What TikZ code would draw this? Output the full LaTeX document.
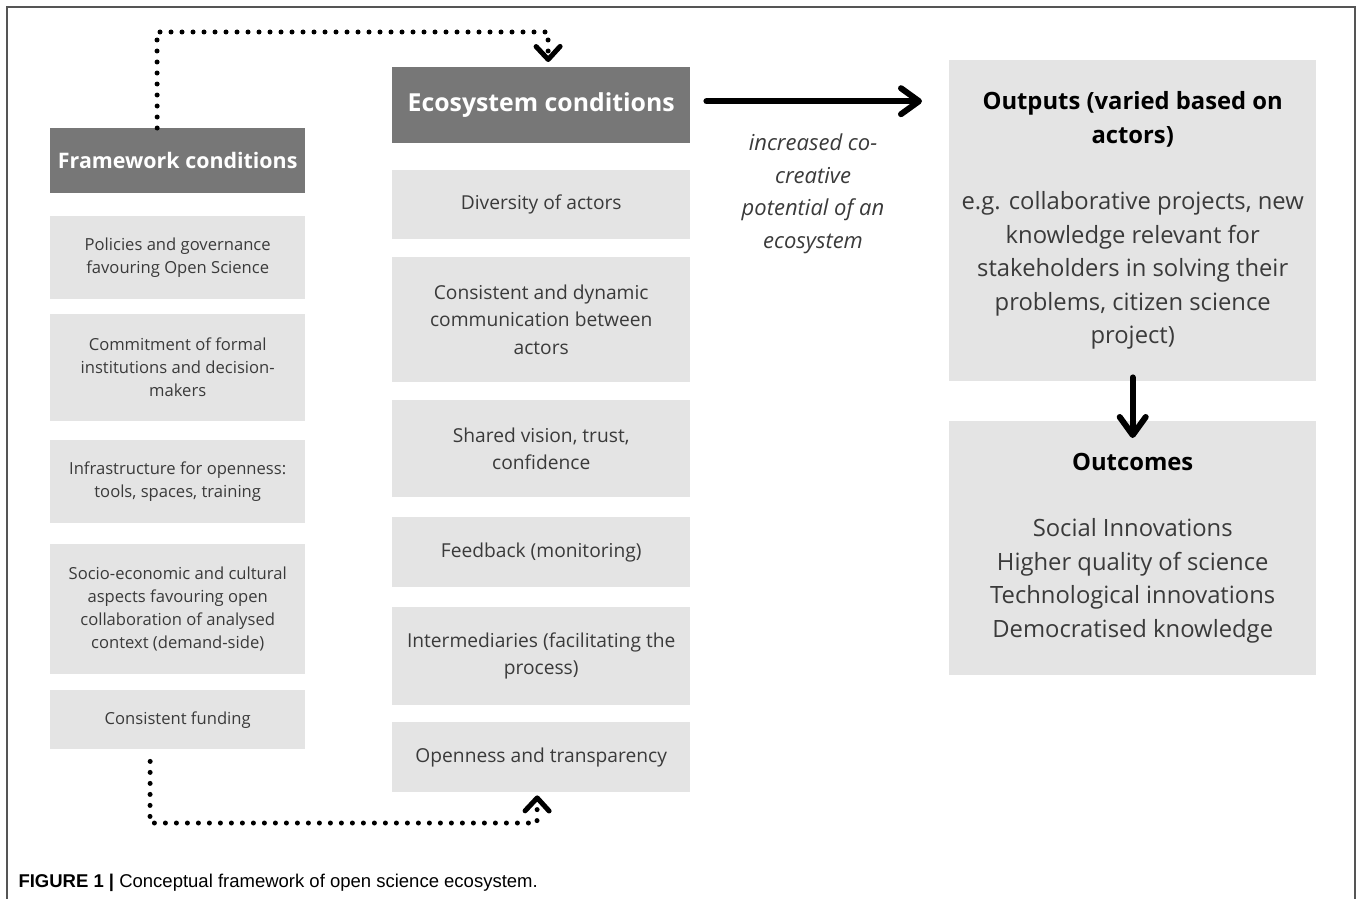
\documentclass[tikz,border=0pt]{standalone}
\usepackage{fontspec}
\setmainfont{Open Sans}
\newfontfamily\capfont{Liberation Sans}
\usetikzlibrary{arrows.meta,calc}
\definecolor{headgray}{HTML}{777777}
\definecolor{boxgray}{HTML}{E4E4E4}
\definecolor{txtgray}{HTML}{3A3A3A}
\definecolor{framegray}{HTML}{555555}
\tikzset{hdr/.style={anchor=north west, fill=headgray, text=white, inner sep=0pt},
         cbox/.style={anchor=north west, fill=boxgray, text=txtgray, align=center, inner sep=0pt},
         fwbox/.style={cbox, minimum width=255pt, font=\fontsize{16.6}{23}\selectfont},
         ecbox/.style={cbox, minimum width=298pt, font=\fontsize{19.2}{27.5}\selectfont},
         rbox/.style={cbox, minimum width=367pt, text=black, font=\fontsize{23.8}{33.5}\selectfont},
         dotline/.style={line width=5pt, line cap=round, dash pattern=on 0pt off 11pt},
         dotarrow/.style={dotline, -{Straight Barb[length=13pt,width=24pt,round]}},
         bigarrow/.style={line width=6pt, line cap=round, -{Straight Barb[length=18pt,width=26pt,round]}}}

\begin{document}
\begin{tikzpicture}[x=1pt, y=-1pt]
   \useasboundingbox (0,0) rectangle (1357,899);
   \draw[framegray, line width=1.5pt] (7,899) -- (7,7) -- (1355,7) -- (1355,899);

   \node[hdr, minimum width=255pt, minimum height=65pt, font=\fontsize{21.4}{26}\selectfont\bfseries] (fw) at (50,128) {Framework conditions};
   \node[fwbox, minimum height=83pt]  (f1) at (50,216) {Policies and governance\\favouring Open Science};
   \node[fwbox, minimum height=107pt] (f2) at (50,314) {Commitment of formal\\institutions and decision-\\makers};
   \node[fwbox, minimum height=83pt]  (f3) at (50,440) {Infrastructure for openness:\\tools, spaces, training};
   \node[fwbox, minimum height=130pt] (f4) at (50,544) {Socio-economic and cultural\\aspects favouring open\\collaboration of analysed\\context (demand-side)};
   \node[fwbox, minimum height=59pt]  (f5) at (50,690) {Consistent funding};

   \node[hdr, minimum width=298pt, minimum height=76pt, font=\fontsize{24.8}{28}\selectfont\bfseries] (eco) at (392,67) {\raisebox{-3pt}{Ecosystem conditions}};
   \node[ecbox, minimum height=69pt]  (e1) at (392,170) {Diversity of actors};
   \node[ecbox, minimum height=125pt] (e2) at (392,257) {Consistent and dynamic\\communication between\\actors};
   \node[ecbox, minimum height=97pt]  (e3) at (392,400) {Shared vision, trust,\\confidence};
   \node[ecbox, minimum height=70pt]  (e4) at (392,517) {Feedback (monitoring)};
   \node[ecbox, minimum height=98pt]  (e5) at (392,607) {Intermediaries (facilitating the\\process)};
   \node[ecbox, minimum height=70pt]  (e6) at (392,722) {Openness and transparency};

   \node[rbox, minimum height=321pt] (out) at (949,60) {\textbf{Outputs (varied based on}\\\textbf{actors)}\\[33pt]\color{txtgray}e.g. collaborative projects, new\\\color{txtgray}knowledge relevant for\\\color{txtgray}stakeholders in solving their\\\color{txtgray}problems, citizen science\\\color{txtgray}project)};
   \node[rbox, minimum height=254pt] (oc) at (949,421) {\textbf{Outcomes}\\[33pt]\color{txtgray}Social Innovations\\\color{txtgray}Higher quality of science\\\color{txtgray}Technological innovations\\\color{txtgray}Democratised knowledge};

   \node[text=txtgray, align=center, font=\fontsize{22}{32.5}\selectfont\itshape] (pot) at (813,194) {increased co-\\creative\\potential of an\\ecosystem};

   \draw[bigarrow] ([xshift=16pt,yshift=4pt]eco.east) -- ($(eco.east -| out.west)+(-27,-4)$);
   \draw[bigarrow] ([yshift=4pt]out.south) -- ([yshift=-17pt]oc.north);

   \coordinate (tl) at (157,32);
   \coordinate (tr) at (548,32);
   \draw[dotarrow] ([xshift=-20.5pt]fw.north) -- (tl) -- (tr) -- ([xshift=7pt,yshift=5pt]eco.north);
   \coordinate (bl) at (150,823);
   \coordinate (br) at (537,823);
   \draw[dotarrow, shorten <=12pt] ([xshift=-27.5pt]f5.south) -- (bl) -- (br) -- ([xshift=-4pt,yshift=-3pt]e6.south);

   \node[anchor=west, font=\capfont\fontsize{18.5}{22}\selectfont] (cap) at (15,883) {\textbf{FIGURE 1 |} Conceptual framework of open science ecosystem.};
\end{tikzpicture}
\end{document}
